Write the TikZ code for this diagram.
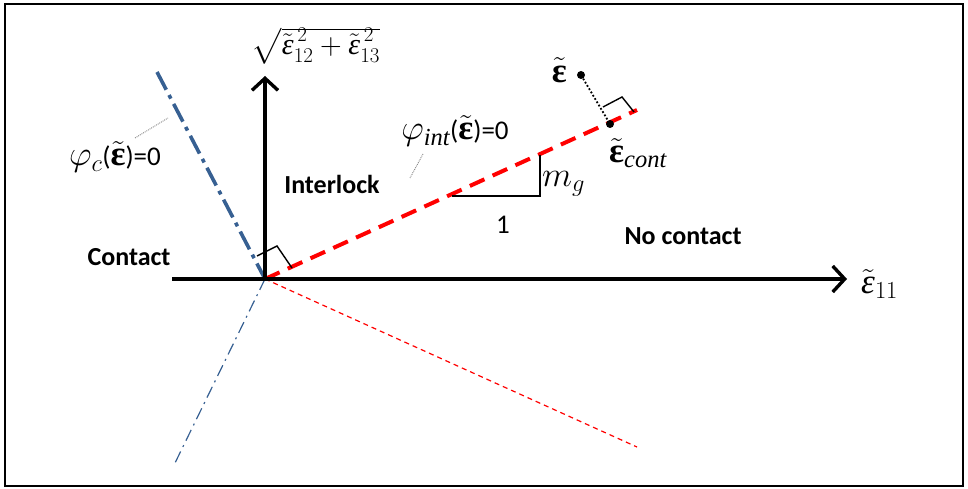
\RequirePackage{fix-cm}
\documentclass[tikz,border=0pt]{standalone}
\usepackage{amsmath, amssymb, bm}
\usepackage{fontspec}
\setmainfont{Carlito}
\newfontfamily\grkfont{Liberation Serif}
\usepackage{tikz}
\usetikzlibrary{arrows.meta, positioning, calc}

\definecolor{gblue}{RGB}{55,96,146}
\definecolor{gred}{RGB}{255,0,0}

\newcommand{\mfs}{\fontsize{35}{38}\selectfont}
\newcommand{\epst}{\tilde{\text{\grkfont\bfseries ε}}}
\newcommand{\epsi}{\tilde{\text{\grkfont\itshape ε}}}
\newcommand{\subtxt}[1]{\text{\grkfont\itshape #1}}

\begin{document}
\begin{tikzpicture}[
  x=1pt, y=-1pt,
  axis/.style={line width=3.4pt, -{Straight Barb[length=12pt, width=26pt, line width=3.4pt]}},
  glim/.style={gred, line width=4pt, dash pattern=on 16pt off 9pt},
  glimthin/.style={gred, line width=1.2pt, dash pattern=on 5pt off 4pt},
  clim/.style={gblue, line width=3.6pt, dash pattern=on 20pt off 6pt on 4pt off 6pt},
  climthin/.style={gblue, line width=1.2pt, dash pattern=on 12pt off 5pt on 2pt off 5pt},
  leader/.style={gray, line width=0.9pt, densely dotted},
  lbl/.style={font=\fontsize{26}{30}\selectfont\bfseries},
  mlbl/.style={font=\fontsize{27}{30}\selectfont},
  msym/.style={font=\mfs},
  dot/.style={circle, fill=black, inner sep=0pt, minimum size=8pt}
]

% frame
\useasboundingbox (0,0) rectangle (968,489);
\draw[line width=1.6pt] (5,4) rectangle (963,486);

% points
\coordinate (O) at (265,279);
\coordinate (xs) at (172,279);
\coordinate (xe) at (847,279);
\coordinate (ye) at (265,76);
\coordinate (gtop) at (637,110);
\coordinate (gbot) at (637,447);
\coordinate (ctop) at (157,72);
\coordinate (cbot) at (175,463);

% limit lines
\draw[climthin] (O) -- (cbot);
\draw[glimthin] (O) -- (gbot);
\draw[clim] (ctop) -- (O);
\draw[glim] (O) -- (gtop);

% axes
\draw[axis] (xs) -- (xe);
\draw[axis] (O) -- (ye);

% right angles
\draw[line width=1.4pt] (257,256) -- (277,246) -- (292,268);
\draw[line width=1.4pt] (603,107) -- (622,97) -- (634,112);

% slope triangle
\coordinate (s1) at (452,196);
\coordinate (s2) at (540,196);
\coordinate (s3) at (540,155);
\draw[line width=1.4pt] (s1) -- (s2) -- (s3);
\node[msym, anchor=west, inner sep=2pt] (mg) at (540,184) {$m_g$};
\node[mlbl] (one) at (503,225) {1};

% strain point and its projection
\node[dot] (eps) at (581,75) {};
\node[dot] (epsc) at (610,124) {};
\draw[line width=1.8pt, dotted] (eps) -- (epsc);
\node[msym, anchor=east, inner sep=1pt] (epslbl) at (568,70) {$\epst$};
\node[msym, anchor=north west, inner sep=1pt] (epsclbl) at (608,137) {$\epst_{\subtxt{cont}}$};

% axis labels
\node[msym, anchor=west, inner sep=1pt] (e11) at (860,284) {$\epsi_{11}$};
\node[font=\fontsize{30}{34}\selectfont, inner sep=1pt] (e1213) at (316,46) {$\sqrt{{\epsi_{12}}^{\smash{\,2}}+{\epsi_{13}}^{\smash{\,2}}}$};

% regions
\node[lbl] (inter) at (332,184) {Interlock};
\node[lbl] (cont) at (129,257) {Contact};
\node[lbl] (nocont) at (683,236) {No contact};

% limit labels
\node[mlbl] (phic) at (115,157) {{\mfs$\varphi_c$}({\mfs$\epst$})=0};
\node[mlbl] (phiint) at (455,131) {{\mfs$\varphi_{\subtxt{int}}$}({\mfs$\epst$})=0};
\coordinate (lc1) at (135,138);
\coordinate (lc2) at (168,118);
\draw[leader] (lc1) -- (lc2);
\coordinate (li1) at (423,154);
\coordinate (li2) at (410,178);
\draw[leader] (li1) -- (li2);

\end{tikzpicture}
\end{document}
